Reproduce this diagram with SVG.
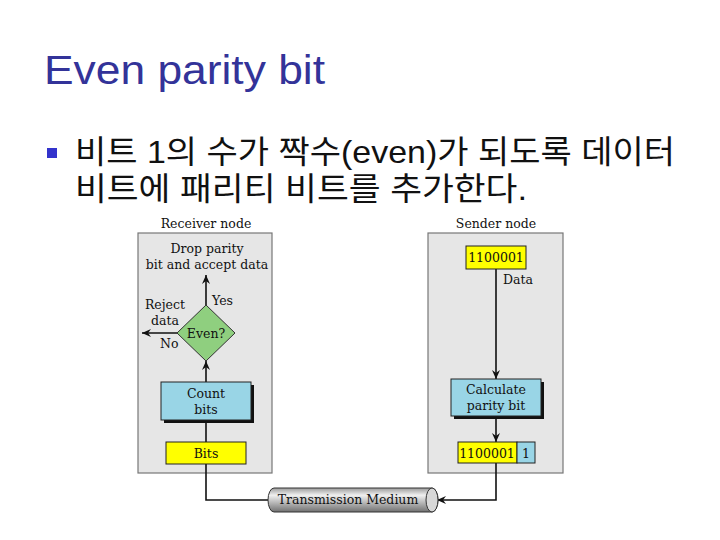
<svg xmlns="http://www.w3.org/2000/svg" width="720" height="540" viewBox="0 0 720 540">
<defs>
<style>
.t{font-family:"DejaVu Serif","Liberation Serif",serif;font-size:12.5px;fill:#111;}
.c{text-anchor:middle;}
.panel{fill:#e6e6e6;stroke:#777;stroke-width:1.2;}
.ln{stroke:#111;stroke-width:1.6;fill:none;}
.yel{fill:#ffff00;stroke:#222;stroke-width:1;}
.blu{fill:#99d5e6;stroke:#222;stroke-width:1;}
.shd{fill:#111;}
</style>
<marker id="ah" markerWidth="10" markerHeight="10" refX="9" refY="5" orient="auto" markerUnits="userSpaceOnUse">
<path d="M0,1 L9,5 L0,9 L3,5 Z" fill="#111"/>
</marker>
<linearGradient id="cyl" x1="0" y1="0" x2="0" y2="1">
<stop offset="0" stop-color="#9a9a9a"/>
<stop offset="0.3" stop-color="#f0f0f0"/>
<stop offset="1" stop-color="#707070"/>
</linearGradient>
</defs>
<rect width="720" height="540" fill="#fff"/>
<text x="44" y="84" font-family="'Liberation Sans',Tahoma,sans-serif" font-size="41" fill="#333399" textLength="281" lengthAdjust="spacingAndGlyphs">Even parity bit</text>
<rect x="47" y="148" width="10" height="10" fill="#3333cc"/>
<text x="75" y="163" font-family="'Liberation Sans','Noto Sans CJK KR',sans-serif" font-size="32" fill="#111" textLength="600" lengthAdjust="spacingAndGlyphs">비트 1의 수가 짝수(even)가 되도록 데이터</text>
<text x="75" y="200" font-family="'Liberation Sans','Noto Sans CJK KR',sans-serif" font-size="32" fill="#111" textLength="452" lengthAdjust="spacingAndGlyphs">비트에 패리티 비트를 추가한다.</text>

<g id="receiver">
<text class="t c" x="206" y="228">Receiver node</text>
<rect class="panel" x="138" y="233" width="134" height="240"/>
</g>
<g id="sender">
<text class="t c" x="496" y="228">Sender node</text>
<rect class="panel" x="428" y="233" width="135" height="240"/>
</g>

<g id="connectors">
<line class="ln" x1="206" y1="305" x2="206" y2="275" marker-end="url(#ah)"/>
<line class="ln" x1="177" y1="333" x2="142" y2="333" marker-end="url(#ah)"/>
<line class="ln" x1="206" y1="382" x2="206" y2="361" marker-end="url(#ah)"/>
<line class="ln" x1="206" y1="442" x2="206" y2="423"/>
<polyline class="ln" points="206,464 206,500 268,500"/>
<line class="ln" x1="496" y1="269" x2="496" y2="379" marker-end="url(#ah)"/>
<line class="ln" x1="496" y1="419" x2="496" y2="442" marker-end="url(#ah)"/>
<polyline class="ln" points="496,463 496,500 437,500" marker-end="url(#ah)"/>
</g>

<g id="drop">
<text class="t c" x="207" y="253">Drop parity</text>
<text class="t c" x="207" y="269">bit and accept data</text>
</g>
<g id="even">
<polygon points="206,305 235,333 206,361 177,333" fill="#8fcf7f" stroke="#333" stroke-width="1"/>
<text class="t c" x="206" y="338">Even?</text>
<text class="t" x="212" y="305">Yes</text>
<text class="t c" x="165" y="309">Reject</text>
<text class="t c" x="165" y="325">data</text>
<text class="t" x="160" y="348">No</text>
</g>
<g id="count">
<rect class="shd" x="164" y="385" width="90" height="38"/>
<rect class="blu" x="161" y="382" width="90" height="38"/>
<text class="t c" x="206" y="398">Count</text>
<text class="t c" x="206" y="414">bits</text>
</g>
<g id="bits">
<rect class="yel" x="166" y="442" width="80" height="22"/>
<text class="t c" x="206" y="458">Bits</text>
</g>
<g id="data">
<rect class="yel" x="466" y="246" width="60" height="23"/>
<text class="t c" x="496" y="262">1100001</text>
<text class="t" x="503" y="284">Data</text>
</g>
<g id="calc">
<rect class="shd" x="454" y="382" width="90" height="37"/>
<rect class="blu" x="451" y="379" width="90" height="37"/>
<text class="t c" x="496" y="394">Calculate</text>
<text class="t c" x="496" y="410">parity bit</text>
</g>
<g id="frame">
<rect class="yel" x="458" y="442" width="59" height="21"/>
<rect class="blu" x="517" y="442" width="18" height="21"/>
<text class="t c" x="487" y="458">1100001</text>
<text class="t c" x="526" y="458">1</text>
</g>
<g id="medium">
<path d="M274,488 L432,488 A6,12 0 0 1 432,512 L274,512 A6,12 0 0 1 274,488 Z" fill="url(#cyl)" stroke="#333" stroke-width="1"/>
<ellipse cx="432" cy="500" rx="6" ry="12" fill="#d8d8d8" stroke="#333" stroke-width="1"/>
<text class="t c" x="348" y="504">Transmission Medium</text>
</g>
</svg>
